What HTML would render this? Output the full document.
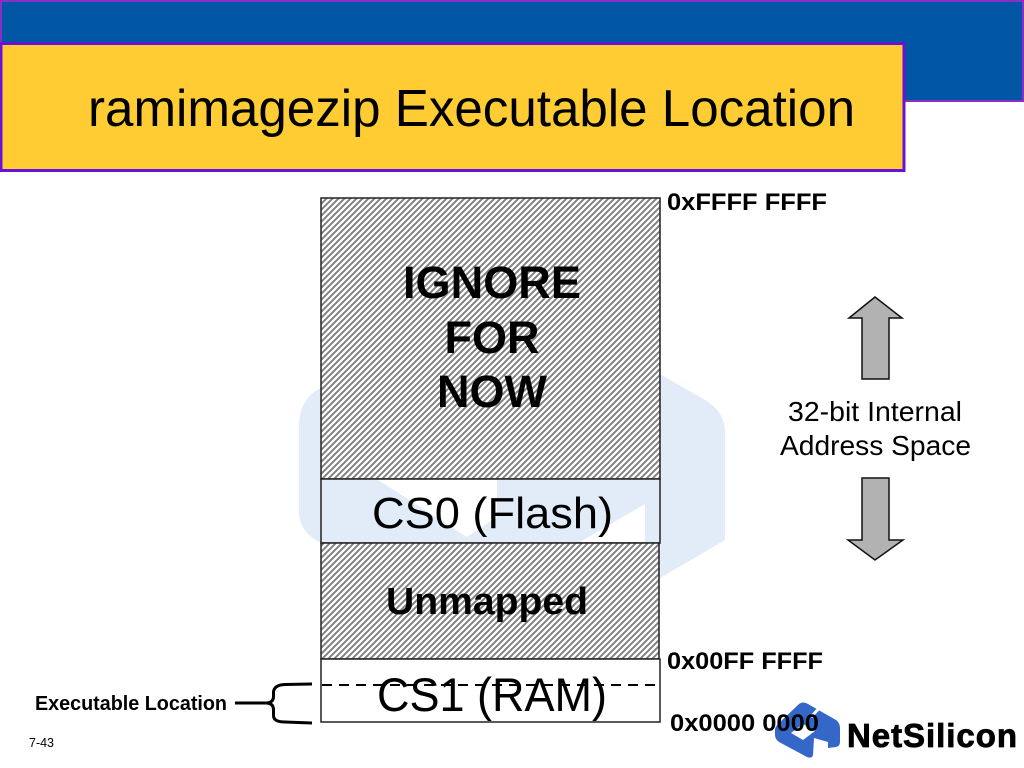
<!DOCTYPE html>
<html>
<head>
<meta charset="utf-8">
<style>
html,body{margin:0;padding:0;background:#fff;width:1024px;height:768px;overflow:hidden}
svg{display:block}
text{font-family:"Liberation Sans",Arial,sans-serif;fill:#000}
.b{font-weight:bold}
</style>
</head>
<body>
<svg width="1024" height="768" viewBox="0 0 1024 768" xmlns="http://www.w3.org/2000/svg">
<defs>
<pattern id="h" width="6" height="6" patternUnits="userSpaceOnUse" patternTransform="translate(321 198)">
<rect width="6" height="6" fill="#fff"/>
<path d="M-1.5 1.5L1.5 -1.5M0 6L6 0M4.5 7.5L7.5 4.5" stroke="#808080" stroke-width="1.9"/>
</pattern>
</defs>

<!-- header -->
<rect x="1" y="1" width="1022" height="100" fill="#0055a5" stroke="#8a2fc4" stroke-width="2"/>
<rect x="1" y="43.500" width="903" height="127" fill="#ffcc33" stroke="#6a10d8" stroke-width="3"/>
<text x="88" y="126" font-size="52" textLength="767" lengthAdjust="spacingAndGlyphs">ramimagezip Executable Location</text>

<!-- watermark -->
<path d="M321 388 Q299 398 299 428 L299 512 Q299 532 321 543 L660 578 L725 540 L725 432 Q725 412 705 400 L660 374 Z" fill="#e1ecf8"/>

<!-- memory map -->
<rect x="321" y="198" width="339" height="281" fill="url(#h)" stroke="#222" stroke-width="1.5"/>
<rect x="321" y="479" width="339" height="64" fill="#e1ecf8" stroke="#222" stroke-width="1.5"/>
<path d="M378 480 L467 537 L497 517 L497 480 Z" fill="#fff"/>
<path d="M645 504 L645 542 L580 542 Z" fill="#fff"/>
<rect x="321" y="543" width="338" height="116" fill="url(#h)" stroke="#222" stroke-width="1.5"/>
<rect x="321" y="659" width="339" height="63" fill="#fff" stroke="#222" stroke-width="1.5"/>
<line x1="322" y1="685" x2="658" y2="685" stroke="#000" stroke-width="2" stroke-dasharray="10 7"/>

<text class="b" x="403" y="298" font-size="45" textLength="178" lengthAdjust="spacingAndGlyphs">IGNORE</text>
<text class="b" x="492" y="353" font-size="45" text-anchor="middle">FOR</text>
<text class="b" x="492" y="407" font-size="45" text-anchor="middle">NOW</text>
<text x="372" y="528" font-size="44" textLength="241" lengthAdjust="spacingAndGlyphs">CS0 (Flash)</text>
<text class="b" x="386" y="614" font-size="38" textLength="202" lengthAdjust="spacingAndGlyphs">Unmapped</text>
<text x="377" y="711" font-size="47" textLength="230" lengthAdjust="spacingAndGlyphs">CS1 (RAM)</text>

<!-- logo -->
<path d="M799 704 Q803 701 808 704 L836 720 Q840 723 840 728 L840 742 Q840 746 836 747 L828 748 L828 742 L814 738 L813 755 Q812 759 807 757 L779 742 Q775 739 775 735 L775 730 Q775 727 778 724 Z" fill="#3567c8"/>
<path d="M823 704 L811 717" stroke="#fff" stroke-width="3"/>
<path d="M791 733 L803 724 L815 731 L803 740 Z" fill="#fff"/>

<!-- address labels -->
<text class="b" x="667" y="210" font-size="24" textLength="160" lengthAdjust="spacingAndGlyphs">0xFFFF FFFF</text>
<text class="b" x="667" y="669" font-size="24" textLength="156" lengthAdjust="spacingAndGlyphs">0x00FF FFFF</text>
<text class="b" x="670" y="731" font-size="24" textLength="149" lengthAdjust="spacingAndGlyphs">0x0000 0000</text>

<text class="b" x="847" y="747" font-size="33" textLength="170" stroke="#000" stroke-width=".8">NetSilicon</text>

<!-- arrows -->
<path d="M875 297 L902 318 L889 318 L889 379 L862 379 L862 318 L849 318 Z" fill="#b2b2b2" stroke="#111" stroke-width="1.5"/>
<path d="M862 478 L889 478 L889 540 L903 540 L875 560 L848 540 L862 540 Z" fill="#b2b2b2" stroke="#111" stroke-width="1.5"/>
<text x="788" y="421" font-size="28" textLength="174" lengthAdjust="spacingAndGlyphs">32-bit Internal</text>
<text x="780" y="455" font-size="28" textLength="191" lengthAdjust="spacingAndGlyphs">Address Space</text>

<!-- brace -->
<path d="M312 684 L285 684.500 Q274 685 273.500 692 L273.500 697 Q273 703 266 703 L235 703 M266 703 Q273 703 273.500 709 L273.500 716 Q274 722 285 722 L312 723" fill="none" stroke="#000" stroke-width="3"/>
<text class="b" x="35" y="710" font-size="20" textLength="192" lengthAdjust="spacingAndGlyphs">Executable Location</text>
<text x="29" y="747" font-size="13" textLength="25" lengthAdjust="spacingAndGlyphs">7-43</text>
</svg>
</body>
</html>
